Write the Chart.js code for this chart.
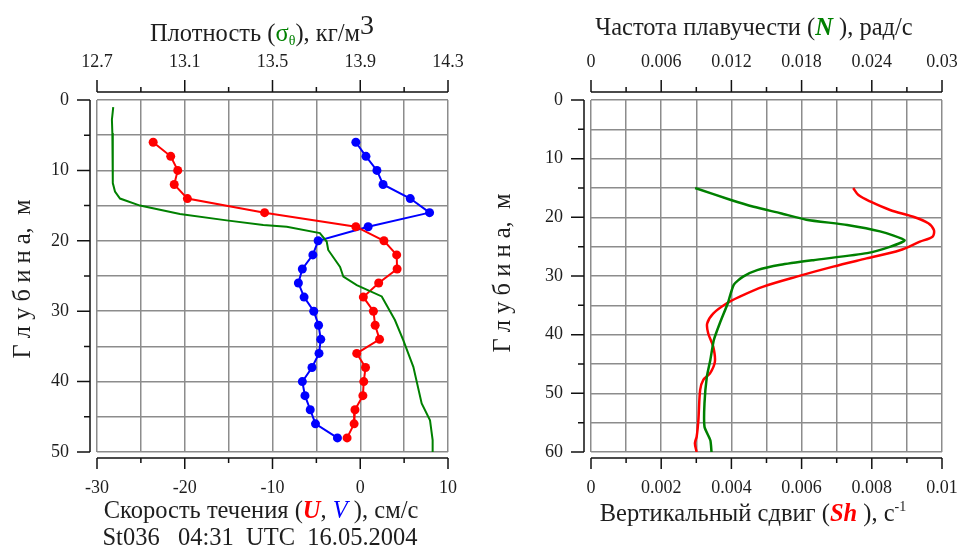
<!DOCTYPE html>
<html>
<head>
<meta charset="utf-8">
<script src="https://cdn.jsdelivr.net/npm/chart.js@4"></script>
<style>
    html, body { margin: 0; padding: 0; background: #fff; }
    #wrap { position: relative; width: 958px; height: 549px; }
    canvas { position: absolute; top: 0; }
    #leftChart { left: 0; }
    #rightChart { left: 480px; }
</style>
</head>
<body>
<div id="wrap">
    <canvas id="leftChart" width="480" height="549"></canvas>
    <canvas id="rightChart" width="478" height="549"></canvas>
</div>
<script>
"use strict";

// Current profile (U, V), cm/s, sampled every 2 m
const uvDepth = [6, 8, 10, 12, 14, 16, 18, 20, 22, 24, 26, 28, 30, 32, 34, 36, 38, 40, 42, 44, 46, 48];
const uSpeed  = [-23.6, -21.6, -20.8, -21.2, -19.7, -10.9, -0.5, 2.7, 4.15, 4.2, 2.1, 0.35, 1.5, 1.7, 2.2, -0.4, 0.6, 0.4, 0.3, -0.6, -0.7, -1.5];
const vSpeed  = [-0.5, 0.65, 1.9, 2.6, 5.7, 7.9, 0.9, -4.8, -5.4, -6.6, -7.05, -6.4, -5.3, -4.75, -4.5, -4.7, -5.5, -6.6, -6.3, -5.7, -5.1, -2.6];

// Density anomaly sigma-theta, kg/m3
const sigmaDepth = [1, 2.8, 4.7, 11.8, 13, 14, 15, 16.2, 17.1, 17.75, 18, 18.9, 20.1, 21.3, 23.7, 25.1, 26.3, 27.9, 31.25, 34.1, 37.9, 43.1, 45.5, 48.3, 50];
const sigmaTheta = [12.774, 12.768, 12.77, 12.772, 12.782, 12.805, 12.896, 13.078, 13.291, 13.458, 13.565, 13.716, 13.747, 13.754, 13.808, 13.823, 13.884, 13.998, 14.058, 14.096, 14.142, 14.18, 14.218, 14.23, 14.23];

// Buoyancy frequency N, rad/s
const nDepth = [15, 17, 18.2, 19.3, 20.4, 21.3, 22.4, 23.9, 25, 26.1, 27.3, 28.1, 29, 30.1, 31.5, 34.6, 38.1, 40.9, 44.3, 47.2, 51.7, 55.7, 58, 60];
const nFreq  = [0.0089, 0.0119, 0.0139, 0.0162, 0.0184, 0.0219, 0.0247, 0.0268, 0.0256, 0.0236, 0.019, 0.0162, 0.0142, 0.013, 0.0122, 0.0117, 0.011, 0.0105, 0.0102, 0.0099, 0.0097, 0.0097, 0.0102, 0.0103];

// Vertical shear Sh, 1/s
const shDepth = [15, 16.2, 17.3, 18.75, 19.9, 21, 22.2, 23.3, 24.15, 25.6, 27, 28.4, 30.1, 31.8, 33.5, 34.65, 36.4, 38.1, 39.8, 42, 44.6, 46.6, 47.7, 49.4, 54.5, 57.4, 58.5, 60];
const shear   = [0.00747, 0.00762, 0.00795, 0.00852, 0.00918, 0.00961, 0.00977, 0.00973, 0.00937, 0.0088, 0.00785, 0.0069, 0.00586, 0.00491, 0.00424, 0.00387, 0.00348, 0.00331, 0.00334, 0.00348, 0.00353, 0.00339, 0.0032, 0.00311, 0.00306, 0.00301, 0.00296, 0.00301];

// Axis ticks and their labels (empty label = minor tick)
const depthTicksL  = [0, 5, 10, 15, 20, 25, 30, 35, 40, 45, 50];
const depthLabelsL = ['0', '', '10', '', '20', '', '30', '', '40', '', '50'];
const depthTicksR  = [0, 5, 10, 15, 20, 25, 30, 35, 40, 45, 50, 55, 60];
const depthLabelsR = ['0', '', '10', '', '20', '', '30', '', '40', '', '50', '', '60'];
const speedTicks   = [-30, -25, -20, -15, -10, -5, 0, 5, 10];
const speedLabels  = ['-30', '', '-20', '', '-10', '', '0', '', '10'];
const sigmaTicks   = [12.7, 12.9, 13.1, 13.3, 13.5, 13.7, 13.9, 14.1, 14.3];
const sigmaLabels  = ['12.7', '', '13.1', '', '13.5', '', '13.9', '', '14.3'];
const nTicks       = [0, 0.003, 0.006, 0.009, 0.012, 0.015, 0.018, 0.021, 0.024, 0.027, 0.03];
const nLabels      = ['0', '', '0.006', '', '0.012', '', '0.018', '', '0.024', '', '0.03'];
const shTicks      = [0, 0.001, 0.002, 0.003, 0.004, 0.005, 0.006, 0.007, 0.008, 0.009, 0.01];
const shLabels     = ['0', '', '0.002', '', '0.004', '', '0.006', '', '0.008', '', '0.01'];

const RED = '#ff0000';
const BLUE = '#0000ff';
const GREEN = '#008000';
const INK = '#1e1e1e';
const GRID = '#8c8c8c';
const SERIF = "'Liberation Serif', 'Times New Roman', serif";
const TITLE_SIZE = 24.5;

function toPoints(xs, ys) {
    return xs.map((x, i) => ({ x: x, y: ys[i] }));
}

// Draws the detached axis lines with major/minor tick marks around the plot frame
const axisFrame = {
    id: 'axisFrame',
    afterDraw(chart) {
        const { ctx, chartArea } = chart;
        ctx.save();
        ctx.strokeStyle = '#111';
        ctx.lineWidth = 1.5;
        Object.values(chart.scales).forEach(scale => {
            const pos = scale.options.position;
            const a = scale.getPixelForValue(scale.min);
            const b = scale.getPixelForValue(scale.max);
            ctx.beginPath();
            if (pos === 'left') {
                const x = chartArea.left - 7;
                ctx.moveTo(x, a);
                ctx.lineTo(x, b);
                scale.ticks.forEach(t => {
                    const y = scale.getPixelForValue(t.value);
                    ctx.moveTo(x, y);
                    ctx.lineTo(x - (t.label ? 13 : 6), y);
                });
            } else if (pos === 'top') {
                const y = chartArea.top - 8;
                ctx.moveTo(a, y);
                ctx.lineTo(b, y);
                scale.ticks.forEach(t => {
                    const x = scale.getPixelForValue(t.value);
                    ctx.moveTo(x, y);
                    ctx.lineTo(x, y - (t.label ? 12 : 5));
                });
            } else {
                const y = chartArea.bottom + 6;
                ctx.moveTo(a, y);
                ctx.lineTo(b, y);
                scale.ticks.forEach(t => {
                    const x = scale.getPixelForValue(t.value);
                    ctx.moveTo(x, y);
                    ctx.lineTo(x, y + (t.label ? 11 : 5));
                });
            }
            ctx.stroke();
        });
        ctx.restore();
    }
};

// Mixed-style axis titles (coloured italic symbols, sub/superscripts)
function partFont(p) {
    return (p.style || '') + ' ' + (p.size || TITLE_SIZE) + 'px ' + SERIF;
}

const richText = {
    id: 'richText',
    afterDraw(chart, args, opts) {
        const ctx = chart.ctx;
        (opts.items || []).forEach(item => {
            ctx.save();
            ctx.translate(item.x, item.y);
            if (item.rot) ctx.rotate(item.rot);
            let width = 0;
            item.parts.forEach(p => {
                ctx.font = partFont(p);
                width += ctx.measureText(p.t).width;
            });
            let x = -width / 2;
            ctx.textBaseline = 'alphabetic';
            ctx.textAlign = 'left';
            item.parts.forEach(p => {
                ctx.font = partFont(p);
                ctx.fillStyle = p.c || INK;
                ctx.fillText(p.t, x, p.dy || 0);
                x += ctx.measureText(p.t).width;
            });
            ctx.restore();
        });
    }
};

// Keeps the plot frame fixed: no extra room reserved for overhanging end labels
function fixedSize(prop, size) {
    return scale => {
        scale[prop] = size;
        scale.paddingLeft = 0;
        scale.paddingRight = 0;
        scale.paddingTop = 0;
        scale.paddingBottom = 0;
    };
}

function tickScale(position, ticks, labels, extra) {
    return Object.assign({
        type: 'linear',
        position: position,
        min: ticks[0],
        max: ticks[ticks.length - 1],
        afterBuildTicks: scale => { scale.ticks = ticks.map(v => ({ value: v })); },
        ticks: {
            autoSkip: false,
            maxRotation: 0,
            color: INK,
            font: { family: SERIF, size: 18 },
            padding: position === 'left' ? 28 : (position === 'top' ? 27 : 25),
            callback: (value, index) => labels[index]
        },
        grid: { color: GRID, lineWidth: 1.5, drawTicks: false },
        border: { display: false }
    }, extra);
}

Chart.defaults.font.family = SERIF;

// Left panel: current components and density
const leftChart = new Chart(document.getElementById('leftChart').getContext('2d'), {
    type: 'scatter',
    data: {
        datasets: [
            {
                label: 'σθ',
                data: toPoints(sigmaTheta, sigmaDepth),
                xAxisID: 'xTop',
                showLine: true,
                borderColor: GREEN,
                borderWidth: 2,
                pointRadius: 0
            },
            {
                label: 'U',
                data: toPoints(uSpeed, uvDepth),
                xAxisID: 'xBottom',
                showLine: true,
                borderColor: RED,
                backgroundColor: RED,
                borderWidth: 2,
                pointRadius: 4.5,
                pointBorderWidth: 0
            },
            {
                label: 'V',
                data: toPoints(vSpeed, uvDepth),
                xAxisID: 'xBottom',
                showLine: true,
                borderColor: BLUE,
                backgroundColor: BLUE,
                borderWidth: 2,
                pointRadius: 4.5,
                pointBorderWidth: 0
            }
        ]
    },
    options: {
        responsive: false,
        animation: false,
        layout: { padding: { left: 0, right: 32, top: 0, bottom: 0 } },
        plugins: {
            legend: { display: false },
            tooltip: { enabled: false },
            richText: {
                items: [
                    { x: 262, y: 41, parts: [
                        { t: 'Плотность (' },
                        { t: 'σ', c: GREEN },
                        { t: 'θ', c: GREEN, size: 14, dy: 4 },
                        { t: '), кг/м' },
                        { t: '3', size: 28, dy: -7 }
                    ] },
                    { x: 261, y: 518, parts: [
                        { t: 'Скорость течения (' },
                        { t: 'U', c: RED, style: 'italic bold' },
                        { t: ', ' },
                        { t: 'V', c: BLUE, style: 'italic' },
                        { t: ' ), см/с' }
                    ] },
                    { x: 260, y: 545, parts: [ { t: 'St036   04:31  UTC  16.05.2004' } ] },
                    { x: 30, y: 279, rot: -Math.PI / 2, parts: [ { t: 'Г л у б и н а,  м' } ] }
                ]
            }
        },
        scales: {
            y: tickScale('left', depthTicksL, depthLabelsL, {
                reverse: true,
                afterFit: fixedSize('width', 97)
            }),
            xTop: tickScale('top', sigmaTicks, sigmaLabels, {
                grid: { display: false, drawTicks: false },
                afterFit: fixedSize('height', 100)
            }),
            xBottom: tickScale('bottom', speedTicks, speedLabels, {
                afterFit: fixedSize('height', 97)
            })
        }
    },
    plugins: [axisFrame, richText]
});

// Right panel: buoyancy frequency and vertical shear
const rightChart = new Chart(document.getElementById('rightChart').getContext('2d'), {
    type: 'scatter',
    data: {
        datasets: [
            {
                label: 'N',
                data: toPoints(nFreq, nDepth),
                xAxisID: 'xTop',
                showLine: true,
                borderColor: GREEN,
                borderWidth: 2.5,
                pointRadius: 0,
                tension: 0.2
            },
            {
                label: 'Sh',
                data: toPoints(shear, shDepth),
                xAxisID: 'xBottom',
                showLine: true,
                borderColor: RED,
                borderWidth: 2.5,
                pointRadius: 0,
                tension: 0.3
            }
        ]
    },
    options: {
        responsive: false,
        animation: false,
        layout: { padding: { left: 0, right: 16, top: 0, bottom: 0 } },
        plugins: {
            legend: { display: false },
            tooltip: { enabled: false },
            richText: {
                items: [
                    { x: 274, y: 35, parts: [
                        { t: 'Частота плавучести (' },
                        { t: 'N', c: GREEN, style: 'italic bold' },
                        { t: ' ), рад/с' }
                    ] },
                    { x: 273, y: 521, parts: [
                        { t: 'Вертикальный сдвиг (' },
                        { t: 'Sh', c: RED, style: 'italic bold' },
                        { t: ' ), с' },
                        { t: '-1', size: 14, dy: -10 }
                    ] },
                    { x: 30, y: 273, rot: -Math.PI / 2, parts: [ { t: 'Г л у б и н а,  м' } ] }
                ]
            }
        },
        scales: {
            y: tickScale('left', depthTicksR, depthLabelsR, {
                reverse: true,
                afterFit: fixedSize('width', 111)
            }),
            xTop: tickScale('top', nTicks, nLabels, {
                grid: { display: false, drawTicks: false },
                afterFit: fixedSize('height', 100)
            }),
            xBottom: tickScale('bottom', shTicks, shLabels, {
                afterFit: fixedSize('height', 97)
            })
        }
    },
    plugins: [axisFrame, richText]
});
</script>
</body>
</html>
